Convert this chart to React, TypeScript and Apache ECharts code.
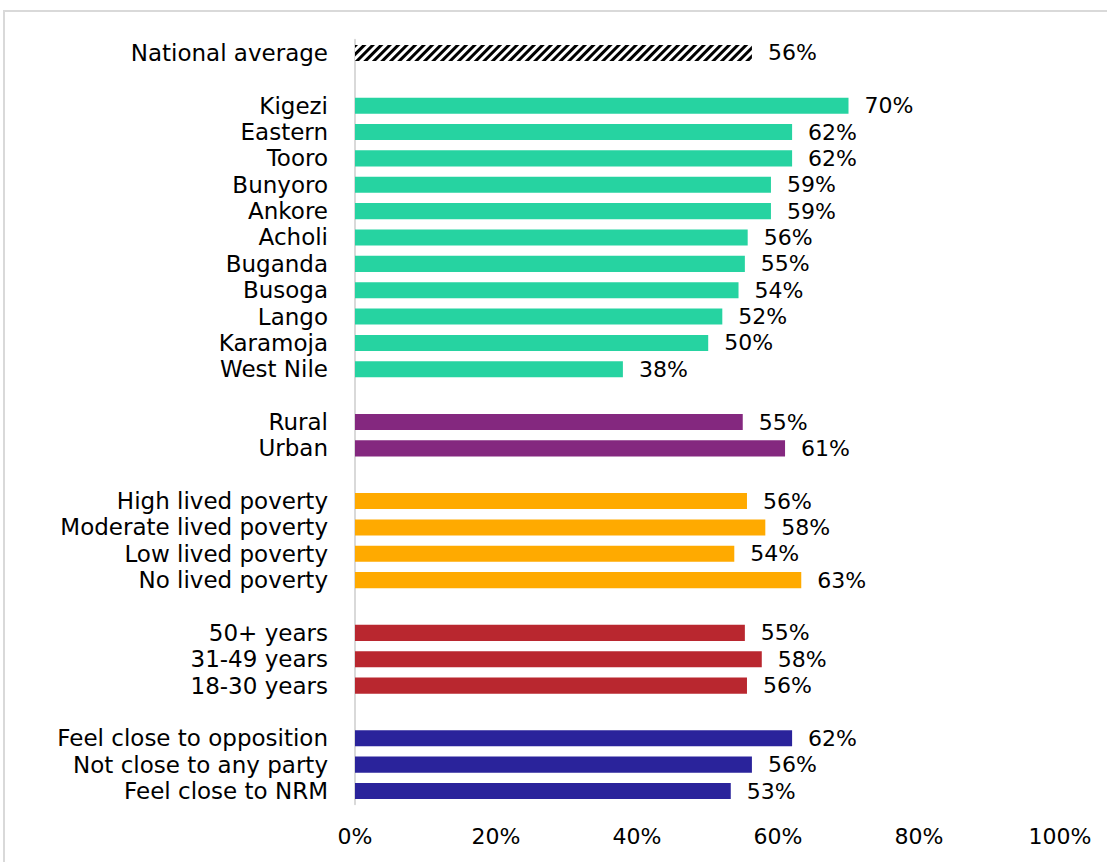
import React, { useEffect, useRef } from "react";
import * as echarts from "echarts";

const nationalLabel = ["National average"];
const nationalValues = [56.3];
const regionLabels = ["Kigezi", "Eastern", "Tooro", "Bunyoro", "Ankore", "Acholi", "Buganda", "Busoga", "Lango", "Karamoja", "West Nile"];
const regionValues = [70, 62, 62, 59, 59, 55.7, 55.3, 54.4, 52.1, 50.1, 38];
const locationLabels = ["Rural", "Urban"];
const locationValues = [55, 61];
const povertyLabels = ["High lived poverty", "Moderate lived poverty", "Low lived poverty", "No lived poverty"];
const povertyValues = [55.6, 58.2, 53.8, 63.3];
const ageLabels = ["50+ years", "31-49 years", "18-30 years"];
const ageValues = [55.3, 57.7, 55.6];
const partyLabels = ["Feel close to opposition", "Not close to any party", "Feel close to NRM"];
const partyValues = [62, 56.3, 53.3];
const xTicks = [0, 20, 40, 60, 80, 100];

const COLORS = {
  region: "#26D3A1",
  location: "#84287F",
  poverty: "#FFAA00",
  age: "#B9272F",
  party: "#2A239B",
};

const FONT = "DejaVu Sans";
const FS = 23;

export default function App() {
  const ref = useRef<HTMLDivElement>(null);
  useEffect(() => {
    if (!ref.current) return;
    const chart = echarts.init(ref.current, null, { renderer: "svg" });

    const categories: string[] = [];
    const data: any[] = [];
    let blank = 0;
    const addBlank = () => {
      blank += 1;
      categories.push(" ".repeat(blank));
      data.push({ value: "-" });
    };
    nationalLabel.forEach((l, i) => {
      categories.push(l);
      data.push({
        value: nationalValues[i],
        itemStyle: {
          color: "#ffffff",
          decal: {
            symbol: "rect",
            color: "#000000",
            backgroundColor: "#ffffff",
            dashArrayX: [1, 0],
            dashArrayY: [3, 3],
            rotation: -Math.PI / 4,
          },
        },
      });
    });
    const groups: [string[], number[], string][] = [
      [regionLabels, regionValues, COLORS.region],
      [locationLabels, locationValues, COLORS.location],
      [povertyLabels, povertyValues, COLORS.poverty],
      [ageLabels, ageValues, COLORS.age],
      [partyLabels, partyValues, COLORS.party],
    ];
    groups.forEach(([labels, values, color]) => {
      addBlank();
      labels.forEach((l, i) => {
        categories.push(l);
        data.push({ value: values[i], itemStyle: { color } });
      });
    });

    chart.setOption({
      animation: false,
      backgroundColor: "#ffffff",
      graphic: [
        {
          type: "rect",
          shape: { x: 4, y: 11, width: 1200, height: 900 },
          style: { fill: "none", stroke: "#d9d9d9", lineWidth: 2 },
          silent: true,
        },
      ],
      grid: { left: 355, right: 47, top: 39.8, bottom: 57.8, containLabel: false },
      xAxis: {
        type: "value",
        min: 0,
        max: 100,
        interval: 20,
        axisLine: { show: false },
        axisTick: { show: false },
        splitLine: { show: false },
        axisLabel: {
          margin: 21,
          color: "#000",
          fontFamily: FONT,
          fontSize: 22,
          formatter: (v: number) => (xTicks.includes(v) ? v + "%" : ""),
        },
      },
      yAxis: {
        type: "category",
        inverse: true,
        data: categories,
        axisLine: { show: true, lineStyle: { color: "#d9d9d9", width: 2 } },
        axisTick: { show: false },
        axisLabel: {
          margin: 27,
          color: "#000",
          fontFamily: FONT,
          fontSize: FS,
          interval: 0,
        },
      },
      series: [
        {
          type: "bar",
          data,
          barWidth: "61%",
          label: {
            show: true,
            position: "right",
            distance: 16,
            color: "#000",
            fontFamily: FONT,
            fontSize: 22,
            formatter: (p: any) => Math.round(p.value) + "%",
          },
        },
      ],
    });
    return () => chart.dispose();
  }, []);
  return (
    <div
      ref={ref}
      style={{ position: "fixed", left: 0, top: 0, width: 1107, height: 862 }}
    />
  );
}
